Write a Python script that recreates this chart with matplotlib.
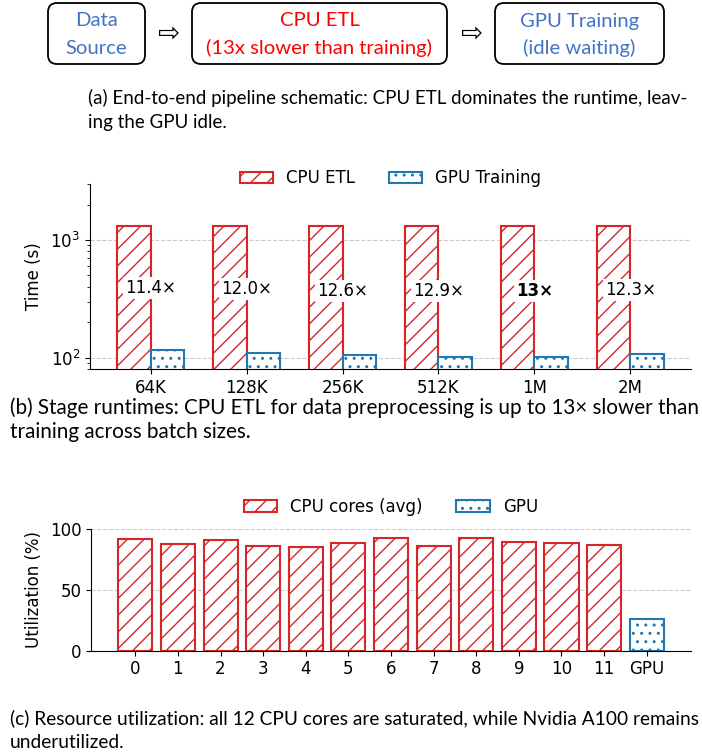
import numpy as np
import matplotlib.pyplot as plt
from matplotlib.patches import FancyBboxPatch

# data
batch_sizes = ['64K', '128K', '256K', '512K', '1M', '2M']
cpu_etl_time = [1320, 1320, 1320, 1320, 1320, 1320]
gpu_train_time = [116, 110, 105, 102, 101.5, 107]
slowdown_labels = ['11.4×', '12.0×', '12.6×', '12.9×', '13×', '12.3×']
bold_label = '13×'

core_names = ['0', '1', '2', '3', '4', '5', '6', '7', '8', '9', '10', '11']
cpu_util = [92.3, 87.9, 91.4, 86.0, 85.7, 89.0, 92.6, 86.2, 93.1, 89.3, 89.0, 87.3]
gpu_util = [26.4]

box_lines = [['Data', 'Source'], ['CPU ETL', '(13x slower than training)'], ['GPU Training', '(idle waiting)']]
box_colors = ['#4472C4', '#FF0000', '#4472C4']

captions = [
    ['(a) End-to-end pipeline schematic: CPU ETL dominates the runtime, leav-', 'ing the GPU idle.'],
    ['(b) Stage runtimes: CPU ETL for data preprocessing is up to 13× slower than', 'training across batch sizes.'],
    ['(c) Resource utilization: all 12 CPU cores are saturated, while Nvidia A100 remains', 'underutilized.'],
]

RED = '#d62728'
BLUE = '#1f77b4'
W, H = 702, 754

plt.rcParams['hatch.linewidth'] = 1.0
fig = plt.figure(figsize=(W / 100, H / 100), dpi=100)


def rect(l, t, r, b):
    return [l / W, 1 - b / H, (r - l) / W, (b - t) / H]


# background axes in pixel coords: schematic + captions
ax0 = fig.add_axes([0, 0, 1, 1])
ax0.set_xlim(0, W)
ax0.set_ylim(H, 0)
ax0.axis('off')

boxes = [(48, 145), (192, 447), (495, 664)]
for (x0, x1), lines, c in zip(boxes, box_lines, box_colors):
    ax0.add_patch(FancyBboxPatch((x0, 3), x1 - x0, 61, boxstyle='round,pad=0,rounding_size=9',
                                 facecolor='white', edgecolor='black', lw=1.3))
    xc = (x0 + x1) / 2
    ax0.text(xc, 21, lines[0], ha='center', va='center', color=c, fontsize=14.6, family='Lato')
    ax0.text(xc, 48, lines[1], ha='center', va='center', color=c, fontsize=14.6, family='Lato')
for xa in [168, 471]:
    ax0.text(xa, 35, '⇨', ha='center', va='center', fontsize=19, family='DejaVu Sans')

cap_pos = [(88, 98, 602), (10, 408, 690), (10, 718, 690)]
renderer = fig.canvas.get_renderer()
for (cx, cy, cw), lines in zip(cap_pos, captions):
    t = ax0.text(cx, cy, lines[0], ha='left', va='center', fontsize=14, family='Lato')
    wpx = t.get_window_extent(renderer).width
    fs = 14 * cw / wpx
    t.set_fontsize(fs)
    ax0.text(cx, cy + 24.5, lines[1], ha='left', va='center', fontsize=fs, family='Lato')

# (b) stage runtimes
ax1 = fig.add_axes(rect(90, 184, 691, 369))
x = np.arange(len(batch_sizes))
w = 0.35
ax1.bar(x - w / 2, cpu_etl_time, w, facecolor='white', edgecolor=RED, hatch='//', lw=1.5, label='CPU ETL')
ax1.bar(x + w / 2, gpu_train_time, w, facecolor='white', edgecolor=BLUE, hatch='..', lw=1.5, label='GPU Training')
ax1.set_yscale('log')
ax1.set_ylim(80, 3000)
ax1.set_xticks(x)
ax1.set_xticklabels(batch_sizes)
ax1.tick_params(labelsize=12)
ax1.set_ylabel('Time (s)', fontsize=12)
ax1.yaxis.set_label_coords(-0.078, 0.5)
ax1.yaxis.grid(True, which='major', ls='--', color='#cccccc', lw=0.8)
ax1.set_axisbelow(True)
for s in ['top', 'right']:
    ax1.spines[s].set_visible(False)
for xi, c, g, lab in zip(x, cpu_etl_time, gpu_train_time, slowdown_labels):
    ax1.text(xi, np.sqrt(c * g), lab, ha='center', va='center', fontsize=12,
             fontweight='bold' if lab == bold_label else 'normal',
             bbox=dict(facecolor='white', edgecolor='none', pad=1.5))
ax1.legend(loc='center', bbox_to_anchor=(0.5, 1.03), ncol=2, frameon=False, fontsize=12,
           columnspacing=2.0)

# (c) utilization
ax2 = fig.add_axes(rect(91, 529.3, 691, 650.7))
xc = np.arange(len(core_names))
ax2.bar(xc, cpu_util, 0.8, facecolor='white', edgecolor=RED, hatch='//', lw=1.5, label='CPU cores (avg)')
ax2.bar([len(core_names)], gpu_util, 0.8, facecolor='white', edgecolor=BLUE, hatch='..', lw=1.5, label='GPU')
ax2.set_xticks(list(xc) + [len(core_names)])
ax2.set_xticklabels(core_names + ['GPU'])
ax2.set_ylim(0, 100)
ax2.set_yticks([0, 50, 100])
ax2.tick_params(labelsize=12)
ax2.set_ylabel('Utilization (%)', fontsize=12)
ax2.yaxis.set_label_coords(-0.08, 0.5)
ax2.yaxis.grid(True, which='major', ls='--', color='#cccccc', lw=0.8)
ax2.set_axisbelow(True)
for s in ['top', 'right']:
    ax2.spines[s].set_visible(False)
ax2.legend(loc='center', bbox_to_anchor=(0.5, 1.184), ncol=2, frameon=False, fontsize=12,
           columnspacing=2.0)

fig.savefig('out.png', dpi=100)
